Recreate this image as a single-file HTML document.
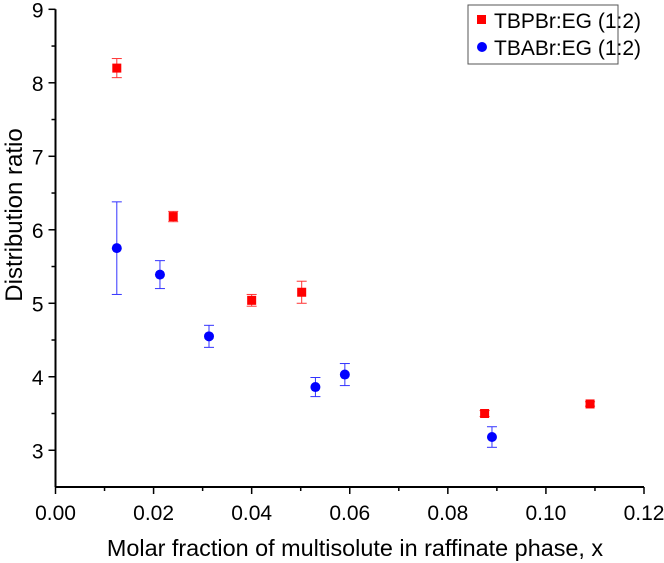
<!DOCTYPE html>
<html><head><meta charset="utf-8"><style>
body{margin:0;background:#fff}
svg{display:block;font-family:"Liberation Sans",Arial,sans-serif}
</style></head><body>
<svg id="chart" width="664" height="563">
<g id="axes"></g><g id="marks"></g>
<g>
<rect x="468" y="5" width="150" height="59" fill="#fff" stroke="#555" stroke-width="1"/>
<rect x="477" y="15" width="9" height="9" fill="#f00"/>
<text x="494" y="28" font-size="21">TBPBr:EG (1:2)</text>
<circle cx="482" cy="47" r="5" fill="#00f"/>
<text x="494" y="55" font-size="21">TBABr:EG (1:2)</text>
</g>
<text x="0" y="0" font-size="24" text-anchor="middle" transform="translate(22,215) rotate(-90)">Distribution ratio</text>
<text x="355" y="556" font-size="23.4" text-anchor="middle">Molar fraction of multisolute in raffinate phase, x</text>
</svg>
<script>
const redX=[0.0125,0.024,0.040,0.0502,0.0875,0.109];
const redY=[8.2,6.18,5.04,5.15,3.5,3.63];
const redErr=[0.13,0.07,0.08,0.15,0.04,0.03];
const blueX=[0.0125,0.0213,0.0313,0.053,0.059,0.089];
const blueY=[5.75,5.39,4.55,3.86,4.03,3.18];
const blueErr=[0.63,0.19,0.15,0.13,0.15,0.14];
const xTicks=["0.00","0.02","0.04","0.06","0.08","0.10","0.12"];
const yTicks=["3","4","5","6","7","8","9"];
const NS="http://www.w3.org/2000/svg";
const X0=55.5,X1=644,Y0=487,Y1=9.3;
const sx=v=>X0+(v/0.12)*(X1-X0);
const sy=v=>Y0-(v-2.5)/6.5*(Y0-Y1);
function mk(t,a,p){const e=document.createElementNS(NS,t);for(const k in a)e.setAttribute(k,a[k]);p.appendChild(e);return e;}
const ax=document.getElementById('axes'),mg=document.getElementById('marks');
const xl=mk('line',{x1:X0,y1:Y0,x2:X1,y2:Y0,stroke:'#000','stroke-width':2},ax);


const yl=mk('line',{x1:X0,y1:Y0,x2:X0,y2:Y1,stroke:'#000','stroke-width':2},ax);


for(let i=0;i<=12;i++){const x=sx(i*0.01);mk('line',{x1:x,y1:Y0,x2:x,y2:Y0+(i%2?4:7),stroke:'#000','stroke-width':1.5},ax);}
xTicks.forEach(t=>{const e=mk('text',{x:sx(+t),y:Y0+33,'font-size':21,'text-anchor':'middle'},ax);e.textContent=t;

});
for(let v=3;v<=9;v+=0.5){const y=sy(v);mk('line',{x1:X0,y1:y,x2:X0-(v%1?4:7),y2:y,stroke:'#000','stroke-width':1.5},ax);}
yTicks.forEach(t=>{const e=mk('text',{x:X0-12,y:sy(+t)+8,'font-size':21,'text-anchor':'end'},ax);e.textContent=t;

});
function err(x,y,e,c){const g=mk('g',{stroke:c,'stroke-width':1},mg);const px=sx(x),a=sy(y+e),b=sy(y-e);
mk('line',{x1:px,y1:a,x2:px,y2:b},g);mk('line',{x1:px-5,y1:a,x2:px+5,y2:a},g);mk('line',{x1:px-5,y1:b,x2:px+5,y2:b},g);

}
redX.forEach((x,i)=>{err(x,redY[i],redErr[i],'#f33');const r=mk('rect',{x:sx(x)-4.5,y:sy(redY[i])-4.5,width:9,height:9,fill:'#f00'},mg);

});
blueX.forEach((x,i)=>{err(x,blueY[i],blueErr[i],'#33f');const c=mk('circle',{cx:sx(x),cy:sy(blueY[i]),r:5,fill:'#00f'},mg);

});
</script>
</body></html>
